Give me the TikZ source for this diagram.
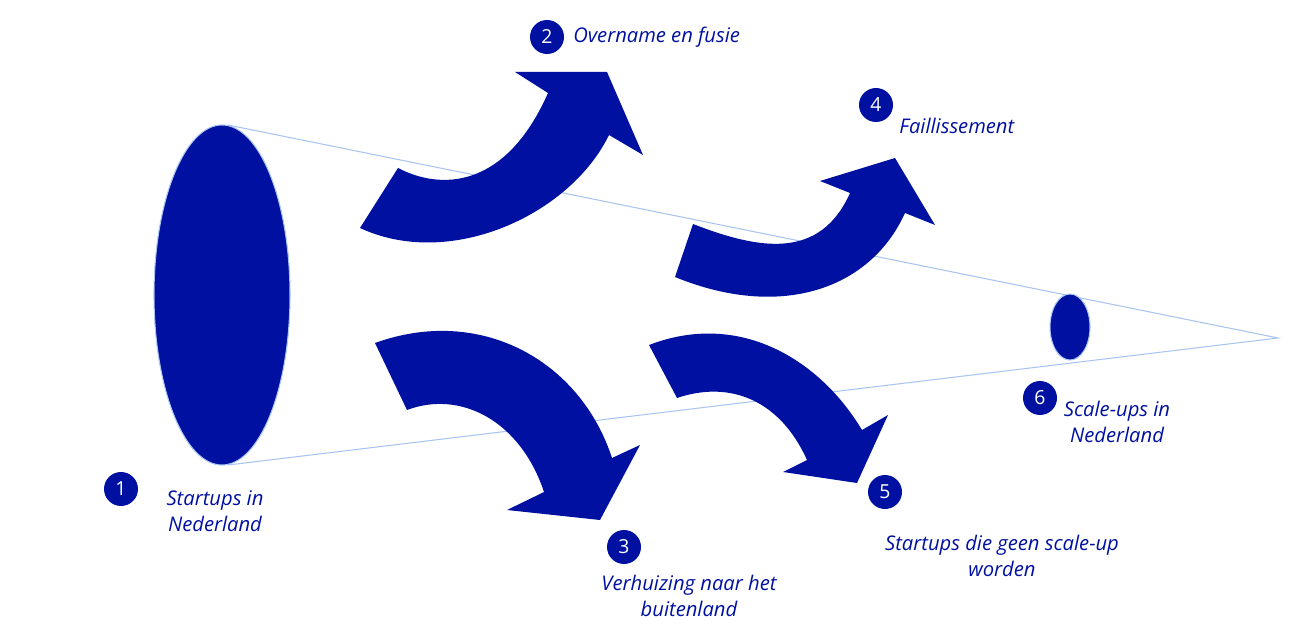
\documentclass[tikz,border=0pt]{standalone}
\usepackage{fontspec}
\usetikzlibrary{shapes.geometric}
\setmainfont{Open Sans}
\definecolor{navy}{HTML}{0010A0}
\definecolor{cone}{HTML}{A8C4F0}
\begin{document}
\begin{tikzpicture}[x=0.02cm,y=-0.02cm,
  num/.style={circle,fill=navy,text=white,minimum size=0.68cm,inner sep=0pt,font=\fontsize{11pt}{13pt}\selectfont},
  lbl/.style={text=navy,font=\fontsize{11.5pt}{15pt}\selectfont\itshape,align=center,inner sep=0pt},
  arr/.style={fill=navy,draw=none}]
\useasboundingbox (0,0) rectangle (1300,638);
\coordinate (tip) at (1278,338);
\coordinate (t1) at (228,125);
\coordinate (b1) at (228,465);
\draw[cone,line width=0.6pt] (t1) -- (tip) -- (b1);
\node[ellipse,draw=cone,fill=navy,minimum width=136*0.02cm,minimum height=340*0.02cm,inner sep=0pt,line width=0.6pt] (big) at (222,295) {};
\node[draw=cone,fill=navy,minimum width=40*0.02cm,minimum height=66*0.02cm,inner sep=0pt,line width=0.6pt,ellipse] (small) at (1070,327) {};
% arrows
\fill[arr] (360,228) -- (398,168) .. controls (440,190) and (505,190) .. (548,93) -- (515,72) -- (607,72) -- (643,155) -- (609,135) .. controls (570,215) and (450,270) .. (360,228) -- cycle;
\fill[arr] (375,343) .. controls (480,305) and (580,360) .. (612,458) -- (640,445) -- (600,520) -- (507,510) -- (544,492) .. controls (520,420) and (460,390) .. (407,410) -- cycle;
\fill[arr] (693,224) .. controls (760,250) and (820,260) .. (850,193) -- (820,181) -- (895,158) -- (935,225) -- (905,213) .. controls (870,290) and (780,320) .. (675,277) -- cycle;
\fill[arr] (649,345) .. controls (740,310) and (820,360) .. (862,430) -- (888,415) -- (857,483) -- (783,472) -- (807,460) .. controls (780,400) and (730,380) .. (677,398) -- cycle;
% numbers
\node[num] (n1) at (121,489) {1};
\node[num] (n2) at (547,37) {2};
\node[num] (n3) at (624,547) {3};
\node[num] (n4) at (876,105) {4};
\node[num] (n5) at (885,492) {5};
\node[num] (n6) at (1040,398) {6};
% labels
\node[lbl] (l1) at (215,511) {Startups in\\Nederland};
\node[lbl,anchor=west] (l2) at (573,37) {Overname en fusie};
\node[lbl] (l3) at (689,596) {Verhuizing naar het\\buitenland};
\node[lbl,anchor=west] (l4) at (899,126) {Faillissement};
\node[lbl] (l5) at (1002,556) {Startups die geen scale-up\\worden};
\node[lbl] (l6) at (1117,422) {Scale-ups in\\Nederland};
\end{tikzpicture}
\end{document}
